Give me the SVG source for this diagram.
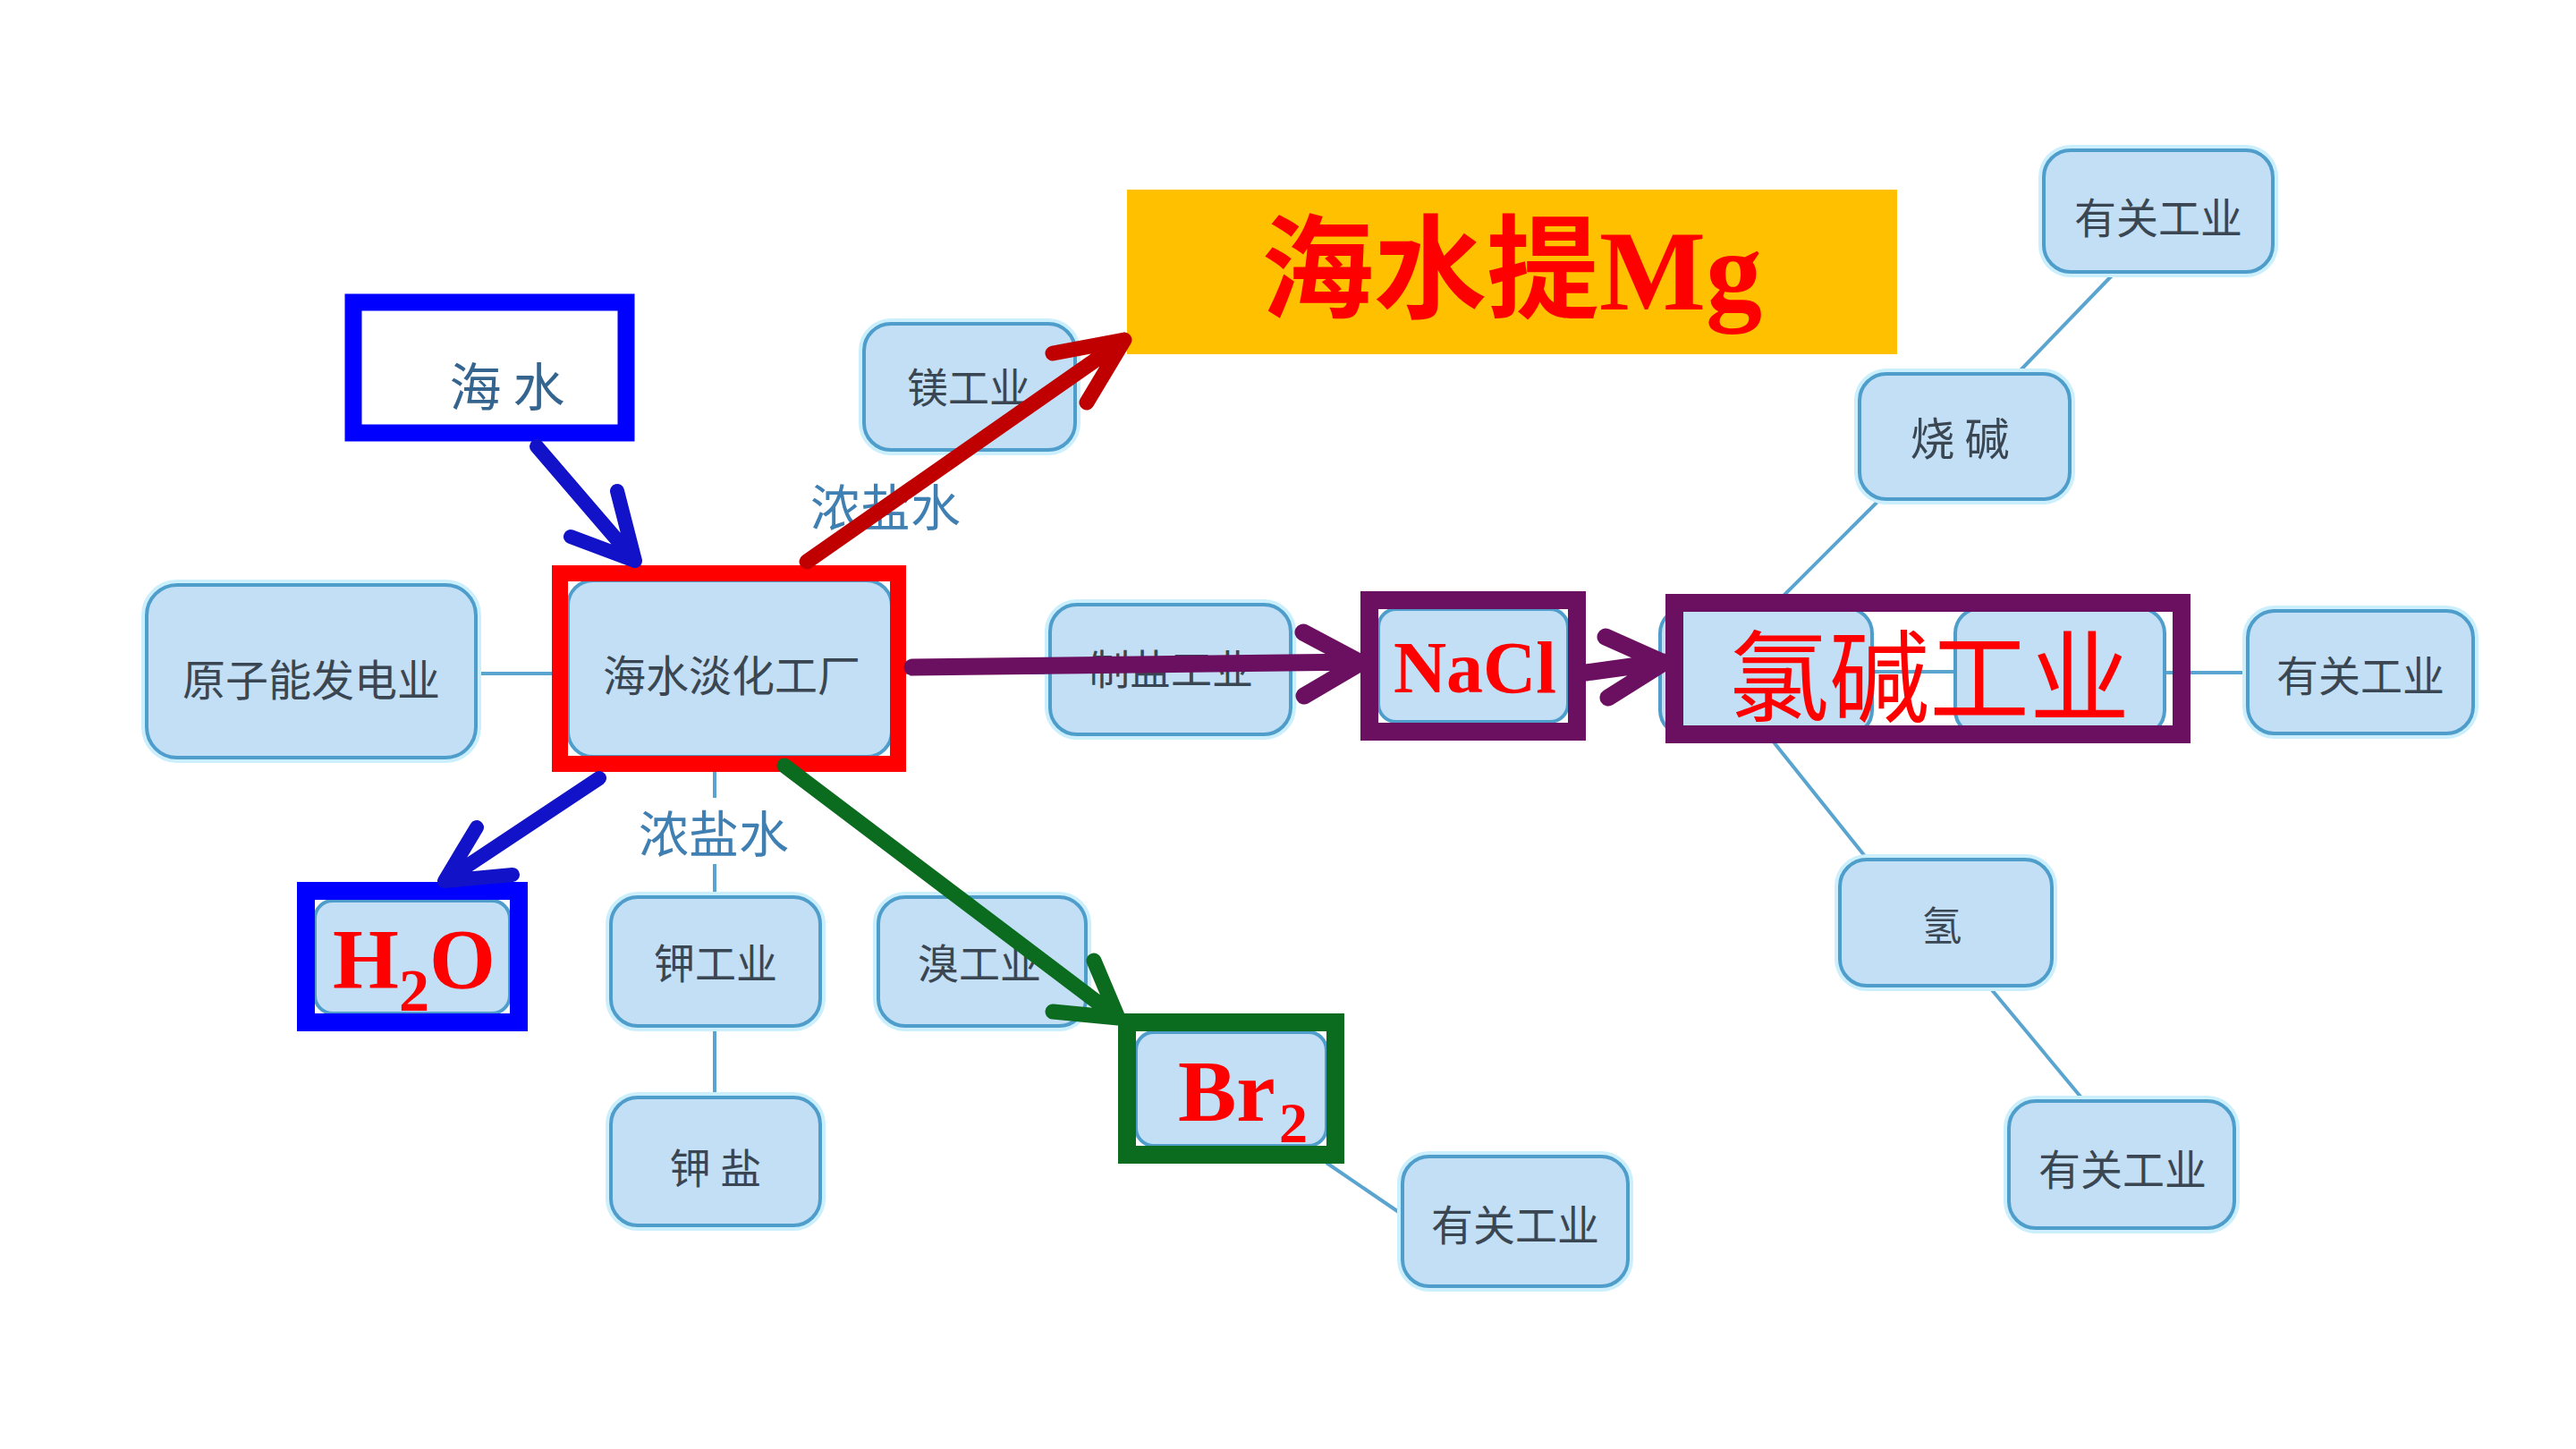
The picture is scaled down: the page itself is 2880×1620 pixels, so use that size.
<svg xmlns="http://www.w3.org/2000/svg" width="2880" height="1620" viewBox="0 0 2880 1620">
<defs>
<style>
.node rect.box{fill:#C2DFF5;stroke:#4E9DCB;stroke-width:4}
.node rect.halo{fill:none;stroke:#CBEFFC;stroke-width:12}
.nt{font-family:"Noto Sans CJK SC","Noto Sans",sans-serif;fill:#3A4652;text-anchor:middle;dominant-baseline:central}
.lbl{font-family:"Noto Sans CJK SC","Noto Sans",sans-serif;fill:#3F7FB2;text-anchor:middle;dominant-baseline:central;font-size:56px}
.conn line{stroke:#5AA5D0;stroke-width:4}
.red{font-family:"Liberation Serif","Noto Sans CJK SC",serif;fill:#FF0000;font-weight:bold}
.arr{fill:none;stroke-linecap:round;stroke-linejoin:round}
</style>
</defs>
<rect width="2880" height="1620" fill="#FFFFFF"/>

<g id="connectors" class="conn">
<line x1="532" y1="753" x2="635" y2="753"/>
<line x1="1013" y1="752" x2="1175" y2="752"/>
<line x1="1443" y1="748" x2="1541" y2="748"/>
<line x1="2093" y1="751" x2="2186" y2="751"/>
<line x1="2420" y1="752" x2="2513" y2="752"/>
<line x1="1975" y1="685" x2="2102" y2="558"/>
<line x1="2255" y1="418" x2="2365" y2="304"/>
<line x1="1968" y1="811" x2="2088" y2="961"/>
<line x1="2223" y1="1102" x2="2331" y2="1232"/>
<line x1="799" y1="846" x2="799" y2="892"/>
<line x1="799" y1="966" x2="799" y2="1003"/>
<line x1="799" y1="1147" x2="799" y2="1227"/>
<line x1="1483" y1="1300" x2="1568" y2="1358"/>
</g>

<g id="n-yuanzineng" class="node">
<rect class="halo" x="164" y="654" width="368" height="193" rx="34"/>
<rect class="box" x="164" y="654" width="368" height="193" rx="34"/>
<text class="nt" x="348" y="757" font-size="48">原子能发电业</text>
</g>

<g id="n-haishuidanhua" class="node">
<rect class="box" x="635" y="649" width="362" height="197" rx="28"/>
<text class="nt" x="818" y="752" font-size="48">海水淡化工厂</text>
<rect x="626" y="641" width="378" height="213" fill="none" stroke="#FF0000" stroke-width="18"/>
</g>

<g id="n-haishui">
<rect x="395" y="338" width="305" height="146" fill="#FFFFFF" stroke="#0000FF" stroke-width="19"/>
<text class="nt" x="567" y="429" font-size="58" style="fill:#35658F">海  水</text>
</g>

<g id="n-meigongye" class="node">
<rect class="halo" x="966" y="362" width="236" height="141" rx="30"/>
<rect class="box" x="966" y="362" width="236" height="141" rx="30"/>
<text class="nt" x="1083" y="430" font-size="46">镁工业</text>
</g>

<g id="n-mg">
<rect x="1260" y="212" width="861" height="184" fill="#FFC000"/>
<text class="red" x="1690" y="346" font-size="126" text-anchor="middle">海水提Mg</text>
</g>

<g id="n-zhiyan" class="node">
<rect class="halo" x="1174" y="676" width="269" height="145" rx="30"/>
<rect class="box" x="1174" y="676" width="269" height="145" rx="30"/>
<text class="nt" x="1309" y="745" font-size="46">制盐工业</text>
</g>

<g id="n-nacl" class="node">
<rect class="box" x="1541" y="681" width="212" height="126" rx="20"/>
<rect x="1531" y="671" width="232" height="147" fill="none" stroke="#6B0F60" stroke-width="20"/>
<text class="red" x="1649" y="774" font-size="82" text-anchor="middle">NaCl</text>
</g>

<g id="n-lvjian" class="node">
<rect class="box" x="1856" y="680" width="237" height="142" rx="28"/>
<rect class="box" x="2186" y="680" width="234" height="142" rx="28"/>
<rect x="1872" y="674" width="567" height="147" fill="none" stroke="#6B0F60" stroke-width="20"/>
<text x="2157" y="750" font-size="112" font-family="Noto Sans CJK SC, sans-serif" fill="#FF0000" text-anchor="middle" dominant-baseline="central">氯碱工业</text>
</g>

<g id="n-youguan-r" class="node">
<rect class="halo" x="2513" y="683" width="252" height="137" rx="30"/>
<rect class="box" x="2513" y="683" width="252" height="137" rx="30"/>
<text class="nt" x="2639" y="752" font-size="47">有关工业</text>
</g>

<g id="n-shaojian" class="node">
<rect class="halo" x="2079" y="418" width="235" height="140" rx="30"/>
<rect class="box" x="2079" y="418" width="235" height="140" rx="30"/>
<text class="nt" x="2191" y="487" font-size="50">烧  碱</text>
</g>

<g id="n-youguan-t" class="node">
<rect class="halo" x="2285" y="168" width="256" height="136" rx="30"/>
<rect class="box" x="2285" y="168" width="256" height="136" rx="30"/>
<text class="nt" x="2413" y="240" font-size="47">有关工业</text>
</g>

<g id="n-qing" class="node">
<rect class="halo" x="2057" y="961" width="237" height="141" rx="30"/>
<rect class="box" x="2057" y="961" width="237" height="141" rx="30"/>
<text class="nt" x="2171" y="1032" font-size="45">氢</text>
</g>

<g id="n-youguan-br" class="node">
<rect class="halo" x="2246" y="1231" width="252" height="142" rx="30"/>
<rect class="box" x="2246" y="1231" width="252" height="142" rx="30"/>
<text class="nt" x="2373" y="1304" font-size="47">有关工业</text>
</g>

<g id="n-h2o" class="node">
<rect class="box" x="352" y="1007" width="218" height="126" rx="20"/>
<rect x="342" y="996" width="238" height="147" fill="none" stroke="#0000FF" stroke-width="20"/>
<text class="red" x="372" y="1105" font-size="95">H<tspan font-size="68" dy="25">2</tspan><tspan dy="-25">O</tspan></text>
</g>

<text class="lbl" x="990" y="563">浓盐水</text>
<text class="lbl" x="798" y="928">浓盐水</text>

<g id="n-jiagongye" class="node">
<rect class="halo" x="683" y="1003" width="234" height="144" rx="30"/>
<rect class="box" x="683" y="1003" width="234" height="144" rx="30"/>
<text class="nt" x="800" y="1074" font-size="46">钾工业</text>
</g>

<g id="n-jiayan" class="node">
<rect class="halo" x="683" y="1227" width="234" height="143" rx="30"/>
<rect class="box" x="683" y="1227" width="234" height="143" rx="30"/>
<text class="nt" x="800" y="1303" font-size="46">钾  盐</text>
</g>

<g id="n-xiugongye" class="node">
<rect class="halo" x="982" y="1003" width="232" height="144" rx="30"/>
<rect class="box" x="982" y="1003" width="232" height="144" rx="30"/>
<text class="nt" x="1095" y="1074" font-size="46">溴工业</text>
</g>

<g id="n-br2" class="node">
<rect class="box" x="1270" y="1154" width="213" height="127" rx="20"/>
<rect x="1260" y="1143" width="233" height="148" fill="none" stroke="#0B6B1E" stroke-width="20"/>
<text class="red" x="1317" y="1253" font-size="98">Br<tspan font-size="64" dx="4" dy="24">2</tspan></text>
</g>

<g id="n-youguan-b" class="node">
<rect class="halo" x="1568" y="1293" width="252" height="145" rx="30"/>
<rect class="box" x="1568" y="1293" width="252" height="145" rx="30"/>
<text class="nt" x="1694" y="1366" font-size="47">有关工业</text>
</g>

<g id="arrows" class="arr">
<path d="M600,499 L710,627 M690,549 L710,627 L638,600" stroke="#1212C8" stroke-width="16"/>
<path d="M670,870 L497,985 M533,925 L497,985 L573,978" stroke="#1212C8" stroke-width="16"/>
<path d="M902,628 L1257,380 M1177,395 L1257,380 L1215,450" stroke="#C00000" stroke-width="17"/>
<path d="M1020,746 L1521,740 M1457,707 L1521,741 L1458,778" stroke="#6B0F60" stroke-width="19"/>
<path d="M1773,752 L1860,740 M1795,712 L1860,741 L1798,780" stroke="#6B0F60" stroke-width="19"/>
<path d="M877,856 L1250,1138 M1223,1074 L1250,1138 L1177,1131" stroke="#0B6B1E" stroke-width="17"/>
</g>
</svg>
